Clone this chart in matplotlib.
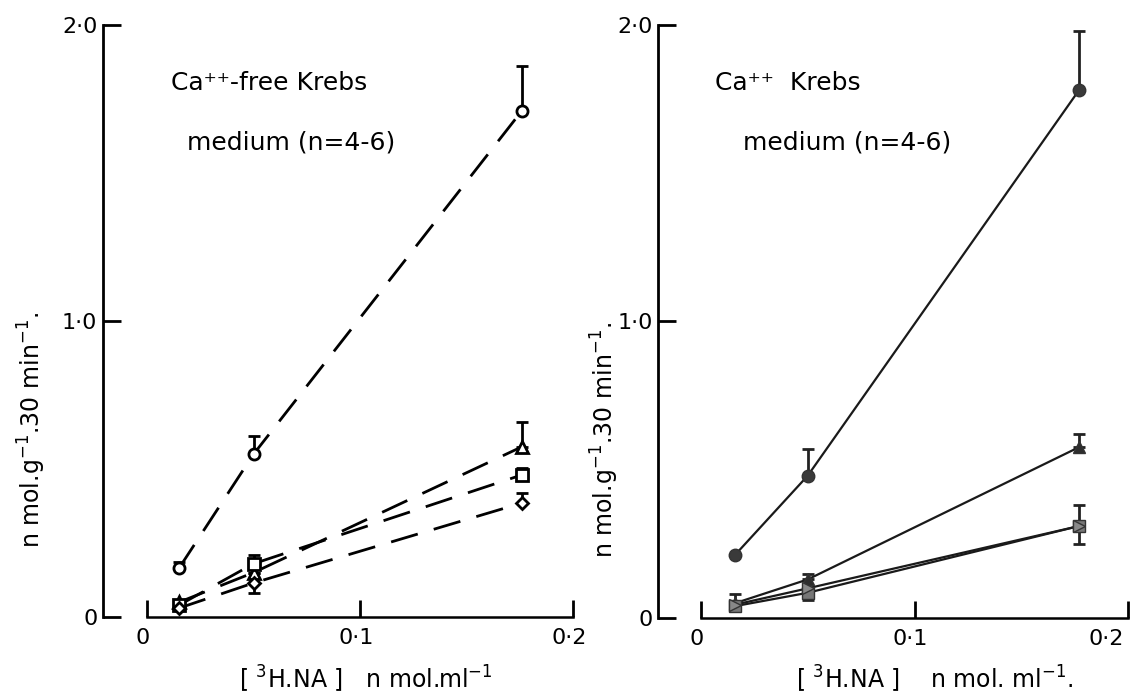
import matplotlib
matplotlib.use("Agg")
import matplotlib.pyplot as plt
import matplotlib.transforms as mtransforms
import numpy as np

##### data
conc = [0.015, 0.05, 0.176]          # [3H.NA] n mol/ml
conc_ca = [0.016, 0.05, 0.177]

# Ca++-free Krebs (open symbols, dashed)
free_circle = [0.165, 0.55, 1.71]
free_circle_up = [0.02, 0.06, 0.15]
free_triangle = [0.05, 0.15, 0.575]
free_triangle_up = [0.0, 0.0, 0.085]
free_square = [0.04, 0.18, 0.48]
free_square_up = [0.0, 0.03, 0.025]
free_diamond = [0.03, 0.115, 0.385]
free_diamond_up = [0.0, 0.0, 0.035]
free_diamond_dn = [0.0, 0.035, 0.0]

# Ca++ Krebs (filled symbols, solid)
ca_circle = [0.213, 0.48, 1.78]
ca_circle_up = [0.0, 0.09, 0.2]
ca_triangle = [0.05, 0.13, 0.576]
ca_triangle_up = [0.03, 0.02, 0.045]
ca_square = [0.04, 0.085, 0.31]
ca_square_up = [0.0, 0.0, 0.07]
ca_diamond = [0.045, 0.10, 0.31]
ca_diamond_dn = [0.0, 0.04, 0.06]

ytick_vals = [0, 1.0, 2.0]
ytick_text = ["0", "1·0", "2·0"]
xtick_vals = [0, 0.1, 0.2]
xtick_text = ["0", "0·1", "0·2"]

plt.rcParams['font.family'] = ['DejaVu Sans']

fig = plt.figure(figsize=(11.33, 6.96), dpi=100, facecolor='w')
ax1 = fig.add_axes([0.0909, 0.1135, 0.4210, 0.8506])
ax2 = fig.add_axes([0.5808, 0.1121, 0.4175, 0.8520])


def style_axes(ax, xlim):
    ax.set_xlim(xlim)
    ax.set_ylim(0, 2.0)
    for s in ["top", "right"]:
        ax.spines[s].set_visible(False)
    ax.spines["left"].set_bounds(0, 2.0)
    ax.spines["bottom"].set_bounds(0, 0.2)
    ax.spines["left"].set_linewidth(2.0)
    ax.spines["bottom"].set_linewidth(1.8)
    ax.set_yticks(ytick_vals)
    ax.set_yticklabels(ytick_text)
    ax.set_xticks(xtick_vals)
    ax.set_xticklabels(xtick_text)
    ax.tick_params(axis='y', direction='in', length=13, width=2, labelsize=16, pad=4)
    ax.tick_params(axis='x', direction='in', length=12, width=2, labelsize=16, pad=8)
    ax.patch.set_alpha(0)
    # typed labels sit a little left of their ticks
    shift = mtransforms.ScaledTranslation(-4 / 100, 0, fig.dpi_scale_trans)
    for lab in ax.get_xticklabels():
        lab.set_transform(lab.get_transform() + shift)


style_axes(ax1, (-0.0207, 0.2033))
style_axes(ax2, (-0.0201, 0.2014))
ax2.get_xticklabels()[-1].set_horizontalalignment('right')

"""left panel: Ca++-free, open symbols and long dashes"""
dash = (10, 6)
free_sets = [
    (free_circle, [0, 0, 0], free_circle_up, 'o'),
    (free_triangle, [0, 0, 0], free_triangle_up, '^'),
    (free_square, [0, 0, 0], free_square_up, 's'),
    (free_diamond, free_diamond_dn, free_diamond_up, 'D'),
]
for vals, dn, up, mk in free_sets:
    ax1.errorbar(conc, vals, yerr=[dn, up], fmt='none', ecolor='k',
                 elinewidth=2, capsize=4, capthick=2, zorder=2, clip_on=False)
    ax1.plot(conc, vals, color='k', lw=2, dashes=dash, zorder=1, clip_on=False)
    ms = 8 if mk != 'D' else 6.5
    ax1.plot(conc, vals, ls='none', marker=mk, ms=ms, mfc='w', mec='k',
             mew=2, zorder=3, clip_on=False)

"""right panel: Ca++, filled symbols and solid lines"""
ca_sets = [
    (ca_circle, [0, 0, 0], ca_circle_up, 'o', '#3a3a3a'),
    (ca_triangle, [0, 0, 0], ca_triangle_up, '^', '#2e2e2e'),
    (ca_square, [0, 0, 0], ca_square_up, 's', '#777777'),
    (ca_diamond, ca_diamond_dn, [0, 0, 0], '>', '#888888'),
]
for vals, dn, up, mk, col in ca_sets:
    ax2.errorbar(conc_ca, vals, yerr=[dn, up], fmt='none', ecolor='#222222',
                 elinewidth=2, capsize=4, capthick=2, zorder=2, clip_on=False)
    ax2.plot(conc_ca, vals, color='#1a1a1a', lw=1.6, zorder=1, clip_on=False)
    ax2.plot(conc_ca, vals, ls='none', marker=mk, ms=9, mfc=col, mec='#333333',
             mew=1, zorder=3, clip_on=False)

"""labels"""
fig.text(0.151, 0.881, "Ca⁺⁺-free Krebs", fontsize=18, va='center', ha='left')
fig.text(0.165, 0.795, "medium (n=4-6)", fontsize=18, va='center', ha='left')
fig.text(0.631, 0.881, "Ca⁺⁺  Krebs", fontsize=18, va='center', ha='left')
fig.text(0.656, 0.795, "medium (n=4-6)", fontsize=18, va='center', ha='left')

fig.text(0.028, 0.382, "n mol.g$^{-1}$.30 min$^{-1}$.", fontsize=17, rotation=90,
         va='center', ha='center')
fig.text(0.534, 0.368, "n mol.g$^{-1}$.30 min$^{-1}$.", fontsize=17, rotation=90,
         va='center', ha='center')

fig.text(0.323, 0.023, "[ $^3$H.NA ]   n mol.ml$^{-1}$", fontsize=17,
         va='center', ha='center')
fig.text(0.825, 0.023, "[ $^3$H.NA ]    n mol. ml$^{-1}$.", fontsize=17,
         va='center', ha='center')

plt.savefig("out.png", dpi=100, facecolor='w')
